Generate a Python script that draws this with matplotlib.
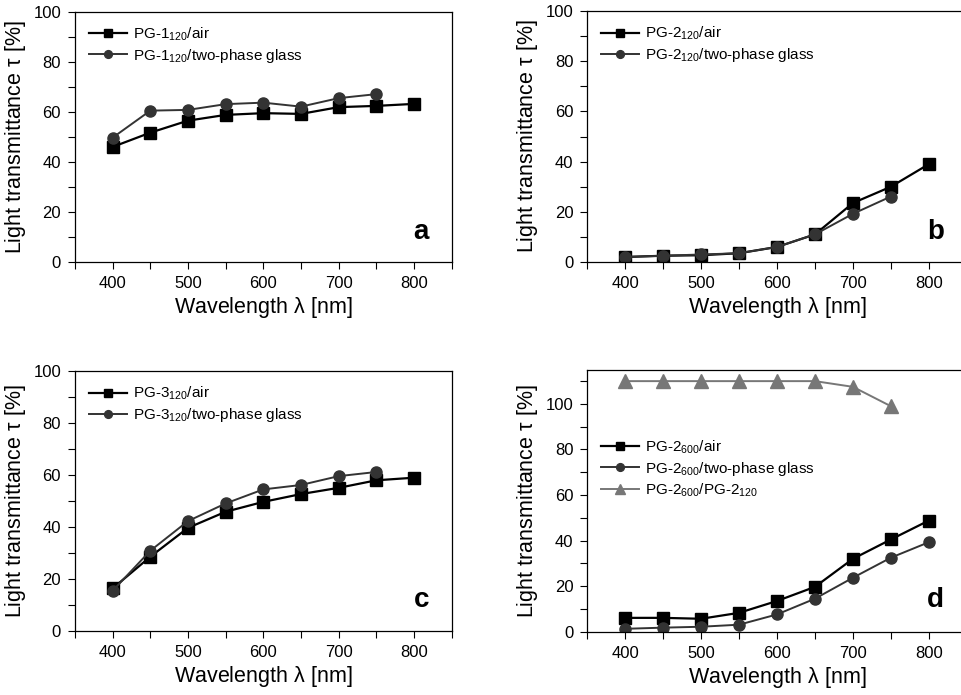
import numpy as np
import matplotlib.pyplot as plt
from matplotlib.ticker import MultipleLocator

plt.rcParams['font.family'] = ['Liberation Sans', 'DejaVu Sans']
plt.rcParams['mathtext.fontset'] = 'custom'
plt.rcParams['mathtext.rm'] = 'Liberation Sans'
plt.rcParams['mathtext.it'] = 'Liberation Sans'

wl = [400, 450, 500, 550, 600, 650, 700, 750, 800]
wl7 = [400, 450, 500, 550, 600, 650, 700, 750]

a_air = [46, 51.7, 56.5, 58.8, 59.5, 59.2, 61.9, 62.4, 63.2]
a_glass = [49.7, 60.5, 60.8, 63.1, 63.7, 62.1, 65.5, 67.1]

b_air = [2, 2.5, 2.7, 3.5, 6, 11, 23.5, 30, 39]
b_glass = [2, 2.5, 3, 3.5, 6, 11, 19.2, 26.1]

c_air = [16.4, 28.6, 39.7, 45.9, 49.7, 52.7, 55.1, 58, 59]
c_glass = [15.5, 30.9, 42.3, 49.1, 54.5, 56.2, 59.6, 61.2]

d_air = [6.1, 6.1, 5.7, 8.3, 13.5, 19.7, 32, 40.5, 48.8]
d_glass = [1.3, 1.8, 2.2, 3.1, 7.6, 14.5, 23.7, 32.5, 39.3]
d_ratio = [110, 110, 110, 110, 110, 110, 107.5, 99]

c_black = '#000000'
c_dark = '#333333'
c_grey = '#777777'

fig = plt.figure(figsize=(9.61, 6.95), dpi=100)
w = 0.392
ax_a = fig.add_axes([0.078, 0.623, w, 0.36])
ax_b = fig.add_axes([0.611, 0.623, 0.395, 0.361])
ax_c = fig.add_axes([0.078, 0.092, w, 0.374])
ax_d = fig.add_axes([0.611, 0.091, 0.395, 0.377])


def style(ax, ymax, letter):
    ax.set_xlim(350, 850)
    ax.set_ylim(0, ymax)
    ax.xaxis.set_major_locator(MultipleLocator(100))
    ax.xaxis.set_minor_locator(MultipleLocator(50))
    ax.yaxis.set_major_locator(MultipleLocator(20))
    ax.yaxis.set_minor_locator(MultipleLocator(10))
    ax.tick_params(which='both', direction='out', top=False, right=False,
                   labelsize=12, width=0.8, length=5, pad=5)
    ax.set_yticks([0, 20, 40, 60, 80, 100])
    ax.set_xlabel(r'Wavelength $\lambda$ [nm]', fontsize=15.5, labelpad=3)
    ax.set_ylabel(r'Light transmittance $\tau$ [%]', fontsize=15.5, labelpad=4)
    ax.text(0.94, 0.12, letter, transform=ax.transAxes, fontsize=20,
            fontweight='bold', ha='right', va='center')
    for s in ax.spines.values():
        s.set_linewidth(0.9)


def pair(ax, y1, y2, name):
    ax.plot(wl[:len(y1)], y1, '-s', color=c_black, lw=1.6, ms=8,
            label=r'PG-%s$_{%s}$/air' % name)
    ax.plot(wl[:len(y2)], y2, '-o', color=c_dark, lw=1.4, ms=8,
            label=r'PG-%s$_{%s}$/two-phase glass' % name)


leg_kw = dict(frameon=False, fontsize=11, handlelength=2.5,
              borderaxespad=0.3, borderpad=0.6, labelspacing=0.25,
              handletextpad=0.4, markerscale=0.7)

pair(ax_a, a_air, a_glass, ('1', '120'))
style(ax_a, 100, 'a')
ax_a.legend(loc='upper left', **leg_kw)

pair(ax_b, b_air, b_glass, ('2', '120'))
style(ax_b, 100, 'b')
ax_b.legend(loc='upper left', **leg_kw)

pair(ax_c, c_air, c_glass, ('3', '120'))
style(ax_c, 100, 'c')
ax_c.legend(loc='upper left', **leg_kw)

pair(ax_d, d_air, d_glass, ('2', '600'))
ax_d.plot(wl7, d_ratio, '-^', color=c_grey, lw=1.4, ms=10,
          label=r'PG-2$_{600}$/PG-2$_{120}$')
style(ax_d, 115, 'd')
ax_d.legend(loc='upper left', bbox_to_anchor=(0.0, 0.79), **leg_kw)

fig.savefig('out.png', dpi=100)
